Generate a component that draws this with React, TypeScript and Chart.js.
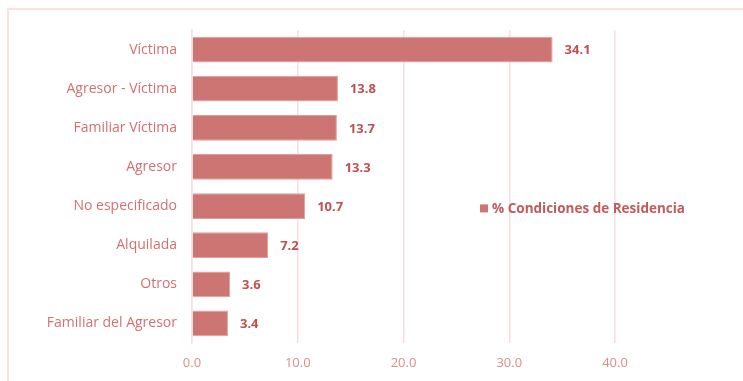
import React, { useEffect, useRef } from "react";
import { Chart, registerables } from "chart.js";

Chart.register(...registerables);

const categories = [
  "Víctima",
  "Agresor - Víctima",
  "Familiar Víctima",
  "Agresor",
  "No especificado",
  "Alquilada",
  "Otros",
  "Familiar del Agresor",
];
const values = [34.1, 13.8, 13.7, 13.3, 10.7, 7.2, 3.6, 3.4];
const seriesLabel = "% Condiciones de Residencia";
const xTicks = [0, 10, 20, 30, 40];

const FONT = "'Open Sans', Lato, sans-serif";
const BAR = "rgb(204,117,114)";

const valueLabels = {
  id: "valueLabels",
  afterDatasetsDraw(chart: any) {
    const ctx = chart.ctx;
    const meta = chart.getDatasetMeta(0);
    const data = chart.data.datasets[0].data as number[];
    ctx.save();
    ctx.font = `bold 13px ${FONT}`;
    ctx.fillStyle = "rgb(190,80,80)";
    ctx.textAlign = "left";
    ctx.textBaseline = "middle";
    meta.data.forEach((el: any, i: number) => {
      ctx.fillText(data[i].toFixed(1), el.x + 12, el.y + 1);
    });
    ctx.restore();
  },
};

const innerLegend = {
  id: "innerLegend",
  afterDraw(chart: any) {
    const ctx = chart.ctx;
    const area = chart.chartArea;
    const label = chart.data.datasets[0].label as string;
    const x = area.left + 288;
    const y = area.top + (area.bottom - area.top) * 0.57;
    ctx.save();
    ctx.fillStyle = BAR;
    ctx.fillRect(x, y - 4, 8, 8);
    ctx.font = `bold 13.5px ${FONT}`;
    ctx.fillStyle = "rgb(197,90,90)";
    ctx.textAlign = "left";
    ctx.textBaseline = "middle";
    ctx.fillText(label, x + 12, y + 1);
    ctx.restore();
  },
};

export default function App() {
  const ref = useRef<HTMLCanvasElement | null>(null);

  useEffect(() => {
    document.body.style.margin = "0";
    if (!ref.current) return;
    const chart = new Chart(ref.current, {
      type: "bar",
      data: {
        labels: categories,
        datasets: [
          {
            label: seriesLabel,
            data: values,
            backgroundColor: BAR,
            borderColor: "rgb(222,160,158)",
            borderWidth: 1,
            barPercentage: 0.66,
            categoryPercentage: 1,
          },
        ],
      },
      options: {
        indexAxis: "y",
        animation: false,
        responsive: false,
        maintainAspectRatio: false,
        layout: { padding: { top: 30, right: 128, left: 0, bottom: 0 } },
        plugins: {
          legend: { display: false },
          tooltip: { enabled: false },
        },
        scales: {
          x: {
            min: 0,
            max: 40,
            afterBuildTicks: (axis: any) => {
              axis.ticks = xTicks.map((v) => ({ value: v }));
            },
            afterFit: (axis: any) => {
              axis.height = 38;
            },
            grid: {
              color: "rgb(250,222,222)",
              lineWidth: 1.5,
              drawTicks: false,
            },
            border: { display: false },
            ticks: {
              padding: 12,
              color: "rgb(222,140,140)",
              font: { family: FONT, size: 13 },
              callback: (v: any) => Number(v).toFixed(1),
            },
          },
          y: {
            afterFit: (axis: any) => {
              axis.width = 192;
            },
            grid: { display: false, drawTicks: false },
            border: { display: true, color: "rgb(250,222,222)", width: 1.5 },
            ticks: {
              padding: 15,
              color: "rgb(212,112,112)",
              font: { family: FONT, size: 14 },
            },
          },
        },
      },
      plugins: [valueLabels, innerLegend],
    });
    return () => chart.destroy();
  }, []);

  return (
    <div
      style={{
        position: "absolute",
        left: 0,
        top: 0,
        width: 743,
        height: 381,
        overflow: "hidden",
        background: "#fff",
      }}
    >
      <div
        style={{
          position: "absolute",
          left: 7,
          top: 8,
          width: 800,
          height: 500,
          borderLeft: "2px solid rgb(252,225,225)",
          borderTop: "2px solid rgb(252,225,225)",
        }}
      />
      <canvas
        ref={ref}
        width={743}
        height={381}
        style={{ position: "absolute", left: 0, top: 0 }}
      />
    </div>
  );
}
